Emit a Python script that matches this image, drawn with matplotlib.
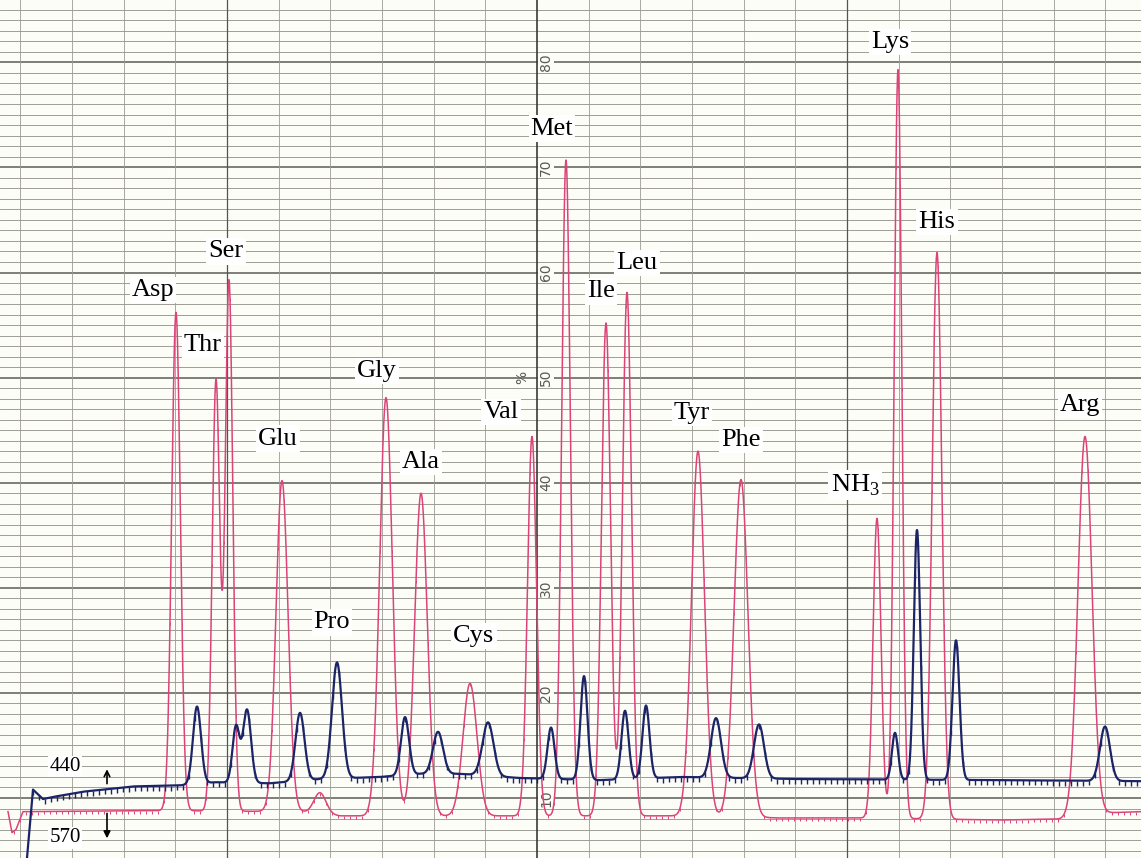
import numpy as np
import matplotlib.pyplot as plt
from matplotlib.markers import TICKDOWN

plt.rcParams['mathtext.fontset'] = 'custom'
plt.rcParams['mathtext.rm'] = 'Liberation Serif'

# Chart readings: x = position along the chart paper, y = % scale printed on the paper (10..80)
# 570 nm trace (red): peak position, apex reading, peak width
red_pos = [176, 216, 229, 282, 320, 386, 421, 470, 532, 566, 606, 627, 698, 741, 877, 898, 937, 1085]
red_apex = [56.2, 49.7, 59.2, 40.2, 10.5, 48.1, 39.0, 20.9, 44.4, 70.7, 55.2, 58.1, 43.0, 40.3, 36.6, 79.3, 61.9, 44.4]
red_sigma = [4.3, 3.8, 3.8, 6.0, 6.0, 6.3, 6.3, 7.0, 4.5, 4.3, 4.5, 4.5, 6.5, 7.0, 4.0, 3.8, 4.8, 7.0]
# 570 nm baseline
red_base_x = [8, 12, 16, 23, 165, 300, 340, 600, 700, 780, 870, 1000, 1060, 1110, 1141]
red_base_y = [8.7, 6.7, 7.0, 8.7, 8.8, 8.7, 8.3, 8.3, 8.3, 8.1, 8.1, 7.9, 8.0, 8.6, 8.7]

# 440 nm trace (blue)
blue_pos = [197, 236, 247, 300, 337, 405, 438, 488, 551, 584, 625, 646, 716, 759, 895, 917, 956, 1105]
blue_apex = [18.7, 16.8, 18.4, 18.1, 22.9, 17.7, 16.3, 17.2, 16.7, 21.6, 18.3, 18.8, 17.6, 17.0, 16.2, 35.5, 25.0, 16.8]
blue_sigma = [4.0, 3.5, 4.0, 4.5, 5.0, 4.0, 5.0, 5.5, 3.5, 3.5, 3.5, 3.5, 5.0, 5.0, 3.0, 3.2, 3.5, 5.0]
# 440 nm baseline
blue_base_x = [27, 33, 43, 53, 83, 133, 180, 215, 270, 320, 380, 420, 460, 520, 600, 680, 800, 1000, 1141]
blue_base_y = [4.3, 10.8, 9.9, 10.1, 10.6, 11.1, 11.2, 11.5, 11.4, 11.8, 12.0, 12.3, 12.3, 11.9, 11.7, 12.0, 11.8, 11.7, 11.6]

# Peak names and where they are written
peak_names = ['Asp', 'Thr', 'Ser', 'Glu', 'Pro', 'Gly', 'Ala', 'Cys', 'Val', 'Met',
              'Ile', 'Leu', 'Tyr', 'Phe', 'NH$_3$', 'Lys', 'His', 'Arg']
label_x = [153, 203, 226, 278, 332, 377, 421, 474, 501, 552, 601, 637, 692, 741, 855, 890, 937, 1080]
label_y = [58.3, 53.1, 62.0, 44.2, 26.7, 50.6, 42.0, 25.4, 46.7, 73.7, 58.2, 60.9, 46.6, 44.1, 39.8, 81.9, 64.8, 47.4]

# Numbers printed on the paper
scale_values = [10, 20, 30, 40, 50, 60, 70, 80]


def build_trace(x, base_x, base_y, pos, apex, sigma):
    # Baseline plus one peak for each reading:
    base = np.interp(x, base_x, base_y)
    y = base.copy()
    for p, a, s in zip(pos, apex, sigma):
        amp = a - np.interp(p, base_x, base_y)
        y += amp * np.exp(-0.5 * ((x - p) / s) ** 2)
    return y


fig = plt.figure(figsize=(11.41, 8.58), dpi=100)
ax = fig.add_axes([0, 0, 1, 1])
ax.set_xlim(0, 1141)
ax.set_ylim(4.29, 85.93)
ax.axis('off')
fig.patch.set_facecolor('#fdfdf8')

# Chart paper grid:
for v in range(5, 86):
    if v % 10 == 0:
        ax.axhline(v, color='#5c5c56', lw=1.1, zorder=1)
    else:
        ax.axhline(v, color='#8e8e86', lw=0.6, zorder=1)
for k in range(0, 23):
    xv = 20.3 + 51.67 * k
    if k == 10:
        ax.axvline(xv, color='#3a3a36', lw=1.2, zorder=1)
    elif k % 6 == 4:
        ax.axvline(xv, color='#55554f', lw=0.9, zorder=1)
    else:
        ax.axvline(xv, color='#9a9a92', lw=0.6, zorder=1)

for v in scale_values:
    ax.text(546, v, str(v), rotation=90, ha='center', va='center', fontsize=10,
            color='#5a5a55', family='DejaVu Sans',
            bbox=dict(facecolor='#fdfdf8', edgecolor='none', pad=0.5), zorder=2)
ax.text(522, 50, '%', rotation=90, ha='center', va='center', fontsize=10,
        color='#5a5a55', zorder=2)

# Traces:
xr = np.arange(red_base_x[0], 1141, 0.25)
yr = build_trace(xr, red_base_x, red_base_y, red_pos, red_apex, red_sigma)
ax.plot(xr, yr, color='#db4479', lw=1.1, marker=TICKDOWN, markevery=24, ms=2.0, mew=0.7, zorder=3)

xb = np.arange(blue_base_x[0], 1141, 0.25)
yb = build_trace(xb, blue_base_x, blue_base_y, blue_pos, blue_apex, blue_sigma)
ax.plot(xb, yb, color='#1b2466', lw=1.6, marker=TICKDOWN, markevery=24, ms=3.5, mew=1.0, zorder=4)

# Peak names:
for name, lx, ly in zip(peak_names, label_x, label_y):
    ax.text(lx, ly, name, ha='center', va='center', fontsize=19, family='Liberation Serif',
            color='black', bbox=dict(facecolor='white', edgecolor='none', pad=1.5), zorder=5)

# Wavelength marks at the left:
ax.text(65, 13.0, '440', ha='center', va='center', fontsize=15, family='Liberation Serif',
        bbox=dict(facecolor='white', edgecolor='none', pad=1), zorder=5)
ax.text(65, 6.2, '570', ha='center', va='center', fontsize=15, family='Liberation Serif',
        bbox=dict(facecolor='white', edgecolor='none', pad=1), zorder=5)
ax.annotate('', xy=(107, 13.0), xytext=(107, 11.1),
            arrowprops=dict(arrowstyle='->', color='black', lw=1.2), zorder=5)
ax.annotate('', xy=(107, 5.9), xytext=(107, 8.8),
            arrowprops=dict(arrowstyle='-|>', color='black', lw=1.2), zorder=5)

fig.savefig('out.png', dpi=100, facecolor=fig.get_facecolor())
